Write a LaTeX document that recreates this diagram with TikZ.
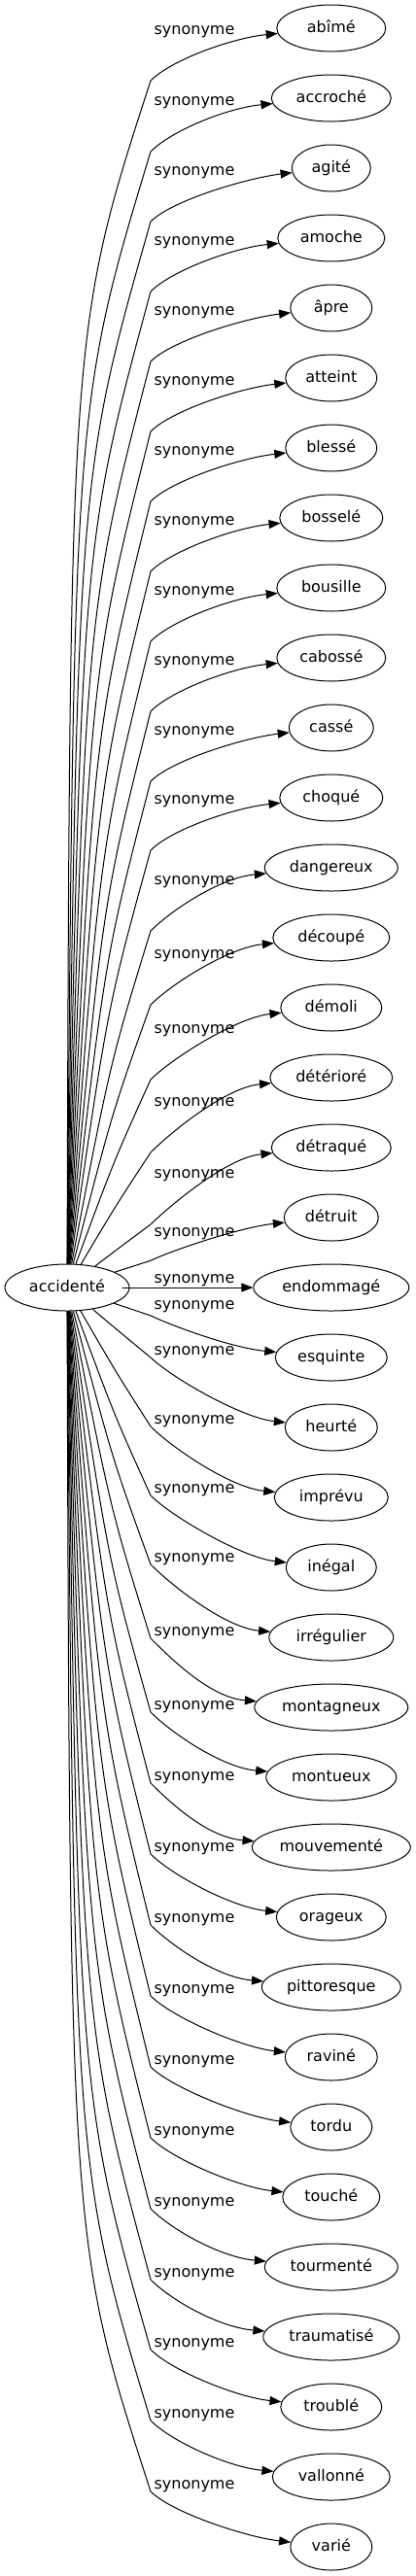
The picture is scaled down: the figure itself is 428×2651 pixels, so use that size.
\documentclass[tikz,border=0pt]{standalone}
\usepackage{fontspec}
\setmainfont{DejaVu Sans}
\usepackage{tikz}
\usetikzlibrary{arrows.meta,shapes.geometric}

\begin{document}
\begin{tikzpicture}[
  x=1pt,y=-1pt,
  every node/.style={font=\fontsize{16}{19}\selectfont,text height=12pt,text depth=3.5pt,inner sep=0pt},
  word/.style={ellipse,draw,line width=1pt,minimum height=48pt},
  lbl/.style={},
  arr/.style={-{Triangle[length=12pt,width=9pt]},line width=1pt},
]
\useasboundingbox (0,0) rectangle (428,2651);

% Source
\node[word,minimum width=128pt] (src) at (69,1325) {accidenté};

% Synonyms, labels and edges (knee of each edge near x=155)
\foreach \wrd/\wdt/\ly [count=\i] in {
  abîmé/112/30, accroché/123/103, agité/81/175, amoche/110/247,
  âpre/84/319, atteint/94/391, blessé/94/463, bosselé/106/535,
  bousille/112/607, cabossé/112/679, cassé/87/751, choqué/106/822,
  dangereux/137/905, découpé/120/981, démoli/104/1058, détérioré/126/1133,
  détraqué/123/1207, détruit/97/1267, endommagé/160/1315, esquinte/115/1342,
  heurté/95/1389, imprévu/117/1460, inégal/93/1531, irrégulier/128/1602,
  montagneux/158/1678, montueux/134/1754, mouvementé/163/1827, orageux/113/1900,
  pittoresque/143/1973, raviné/95/2046, tordu/84/2119, touché/100/2192,
  tourmenté/137/2265, traumatisé/140/2338, troublé/104/2410, vallonné/121/2483,
  varié/84/2556}{
  \pgfmathsetmacro{\ty}{29+72*(\i-1)}
  \pgfmathsetmacro{\tx}{340.8-\wdt/2}
  \pgfmathsetmacro{\dy}{\ty-1325}
  \pgfmathsetmacro{\sg}{sign(\dy)}
  \pgfmathsetmacro{\ys}{1325+\dy/(\tx-69)*86}
  \pgfmathsetmacro{\ky}{\dy<0 ? min(\ly+53,\ys) : max(\ly+8,\ys)}
  \pgfmathsetmacro{\hh}{max(0,abs(\ky-1325)-24)}
  \pgfmathsetmacro{\wt}{min(1,\hh/1217)^1.5}
  \pgfmathsetmacro{\wb}{min(1,abs(\dy)/150)}
  \pgfmathsetmacro{\cx}{(1-\wt)*120.6+\wt*72}
  \pgfmathsetmacro{\cy}{(1-\wt)*(1325+0.6*(\ky-1325))+\wt*(\ky-\sg*0.21*\hh)}
  \pgfmathsetmacro{\dby}{\ty-10*\sg}
  \pgfmathsetmacro{\day}{\ky+22*\sg*\wb}
  \node[word,minimum width=\wdt pt] (t\i) at (340.8,\ty) {\wrd};
  \node[lbl] (l\i) at (200,\ly+1) {synonyme};
  \draw[arr] (src) .. controls (\cx,\cy) .. (155,\ky)
    .. controls (177,\day) and (\tx-45,\dby) .. (t\i);
}
\end{tikzpicture}
\end{document}
